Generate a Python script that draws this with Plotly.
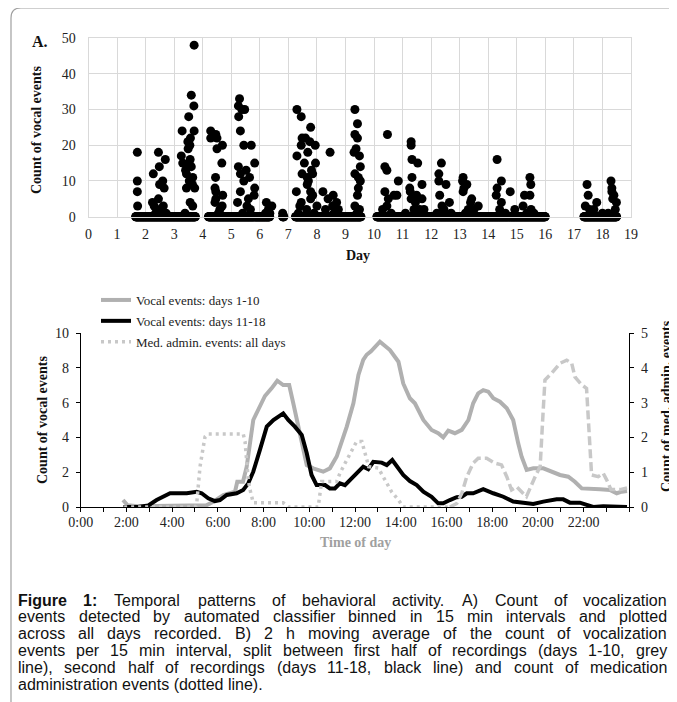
import numpy as np
import plotly.graph_objects as go

# target picture size and the page's default body margin offset
W_PAGE, H_PAGE = 677, 702
OFF = 8
W, H = W_PAGE - OFF, H_PAGE - OFF

# ---------------- Panel A data (day, count of vocal events per 15-min bin) ----------------
day_a = [1.71, 1.71, 1.71, 1.72,
         2.27, 2.24, 2.30, 2.45, 2.48, 2.49, 2.45, 2.60, 2.65, 2.69, 2.62, 2.55, 2.40, 2.72, 2.35,
         3.28, 3.25, 3.30, 3.40, 3.43, 3.43, 3.51, 3.48, 3.49, 3.52, 3.60, 3.69, 3.70, 3.57, 3.55, 3.56,
         3.60, 3.65, 3.53, 3.64, 3.72, 3.56, 3.65, 3.70, 3.38,
         4.28, 4.28, 4.46, 4.50, 4.50, 4.69, 4.45, 4.43, 4.46, 4.46, 4.43, 4.70, 4.67, 4.68, 4.60, 4.55,
         5.29, 5.25, 5.37, 5.47, 5.26, 5.32, 5.25, 5.32, 5.22, 5.32, 5.44, 5.52, 5.44, 5.70, 5.64, 5.60,
         5.82, 5.82, 5.80, 5.55, 5.67, 5.40,
         6.23, 6.42, 6.30, 6.35, 6.20, 6.80,
         7.30, 7.45, 7.30, 7.28, 7.48, 7.45, 7.60, 7.75, 7.94, 7.78, 7.68, 7.56, 7.48, 7.66, 7.81, 7.85,
         7.95, 7.66, 7.70, 7.78, 7.85, 7.78, 7.45, 7.40, 7.64, 7.35, 7.90, 8.00,
         8.46, 8.21, 8.57, 8.39, 8.69, 8.55, 8.30, 8.75, 8.60,
         9.33, 9.33, 9.42, 9.42, 9.30, 9.37, 9.49, 9.52, 9.33, 9.45, 9.52, 9.45, 9.42, 9.33, 9.49, 9.40,
         10.38, 10.45, 10.47, 10.38, 10.50, 10.45, 10.70, 10.85, 10.80, 10.60, 10.30,
         11.30, 11.30, 11.33, 11.33, 11.25, 11.27, 11.30, 11.53, 11.49, 11.45, 11.68, 11.68, 11.60, 11.75,
         11.10, 11.40,
         12.27, 12.27, 12.36, 12.30, 12.52, 12.64, 12.38, 12.45, 12.20, 12.70,
         13.12, 13.10, 13.15, 13.12, 13.25, 13.42, 13.65, 13.38, 13.30, 13.50, 13.20,
         14.31, 14.31, 14.28, 14.46, 14.77, 14.46, 14.93, 14.60, 14.40,
         15.27, 15.22, 15.46, 15.49, 15.46, 15.50, 15.35, 15.60,
         17.46, 17.50, 17.40, 17.55, 17.80, 17.70, 18.30, 18.33, 18.33, 18.36, 18.40, 18.49, 18.45,
         18.20, 18.00]
count_a = [18, 10, 7, 3,
           12, 4, 3, 18, 14, 9, 5, 10, 8, 16, 3, 2, 2, 1, 1,
           24, 17, 15, 13, 12, 8, 28, 21, 19, 15, 34, 31, 24, 22, 20, 16,
           14, 11, 10, 9, 8, 4, 3, 48, 1,
           24, 22, 23, 22, 19, 20, 11, 8, 7, 5, 4, 6, 15, 3, 2, 1,
           33, 31, 30, 30, 28, 24, 14, 12, 4, 7, 10, 13, 20, 20, 11, 5,
           8, 15, 6, 3, 2, 1,
           4, 3, 2, 1, 1, 1,
           30, 28, 17, 7, 22, 20, 22, 21, 20, 25, 18, 15, 12, 11, 13, 12,
           15, 9, 10, 7, 6, 5, 4, 3, 2, 1, 1, 3,
           18, 7, 6, 5, 4, 3, 2, 2, 1,
           30, 23, 22, 26, 18, 19, 17, 14, 12, 11, 10, 8, 6, 3, 2, 1,
           14, 13, 23, 7, 5, 3, 6, 10, 6, 1, 2,
           21, 20, 16, 11, 8, 7, 5, 15, 6, 4, 9, 5, 2, 2,
           1, 2,
           12, 10, 15, 6, 9, 4, 3, 2, 1, 1,
           11, 10, 8, 7, 9, 5, 3, 4, 2, 2, 1,
           16, 8, 6, 10, 7, 4, 2, 1, 2,
           6, 3, 11, 9, 6, 2, 1, 1,
           9, 6, 3, 2, 4, 2, 10, 8, 7, 5, 6, 4, 2,
           1, 1]
# recorded periods (day ranges) in which the remaining 15-min bins had a count of 0
recorded_spans = [(1.65, 3.75), (4.2, 6.35), (6.8, 6.85), (7.25, 9.55), (10.1, 16.0), (17.35, 18.5)]
BIN = 1 / 96  # 15 min in days
zero_days = np.concatenate([np.arange(s, e + 1e-9, BIN) for s, e in recorded_spans])
zero_counts = np.zeros_like(zero_days)

# ---------------- Panel B data (hour of day) ----------------
t_early = [1.85, 2.05, 2.5, 3.0, 4.0, 5.0, 5.5, 5.8, 6.24, 6.75, 6.85, 7.1, 7.26, 7.55, 7.84, 8.06,
           8.35, 8.6, 8.86, 9.12, 9.3, 9.6, 9.89, 10.17, 10.61, 10.9, 11.2, 11.64, 11.93, 12.15,
           12.36, 12.51, 12.7, 13.09, 13.53, 13.9, 14.11, 14.4, 14.62, 14.99, 15.35, 15.64, 15.86,
           16.08, 16.37, 16.67, 16.96, 17.17, 17.39, 17.61, 17.83, 18.05, 18.34, 18.64, 18.92,
           19.14, 19.29, 19.51, 19.8, 20.24, 20.6, 20.97, 21.33, 21.62, 21.92, 22.28, 22.72, 23.15,
           23.45, 23.67, 23.9]
v_early = [0.4, 0.1, 0.05, 0.05, 0.05, 0.05, 0.1, 0.3, 0.69, 0.88, 1.45, 1.45, 2.3, 5.0, 5.86, 6.38,
           6.82, 7.26, 7.01, 7.01, 5.96, 4.23, 2.41, 2.22, 2.03, 2.22, 2.9, 4.62, 5.96, 7.59,
           8.45, 8.75, 8.95, 9.5, 9.02, 8.35, 7.1, 6.25, 5.96, 5.0, 4.43, 4.24, 4.0,
           4.39, 4.24, 4.43, 5.0, 5.96, 6.53, 6.72, 6.63, 6.25, 6.05, 5.67, 5.0,
           3.66, 2.89, 2.13, 2.22, 2.22, 2.03, 1.84, 1.74, 1.45, 1.07, 1.07, 1.02, 0.98,
           0.79, 0.88, 0.92]

t_late = [1.87, 2.5, 2.96, 3.32, 3.91, 4.64, 5.07, 5.29, 5.58, 5.87, 6.09, 6.39, 6.82, 7.11, 7.33,
          7.55, 7.84, 8.14, 8.43, 8.86, 9.08, 9.37, 9.67, 9.89, 10.1, 10.32, 10.69, 10.9, 11.12,
          11.34, 11.56, 11.85, 12.14, 12.36, 12.58, 12.8, 13.17, 13.39, 13.63, 13.9, 14.11, 14.4,
          14.7, 14.99, 15.35, 15.64, 15.86, 16.15, 16.45, 16.67, 16.89, 17.17, 17.61, 18.05, 18.49,
          18.92, 19.36, 19.8, 20.24, 20.53, 20.82, 21.11, 21.4, 21.84, 22.13, 22.42, 22.86, 23.45,
          23.9]
v_late = [0.0, 0.0, 0.09, 0.4, 0.79, 0.79, 0.88, 0.79, 0.5, 0.34, 0.4, 0.69, 0.79, 0.98, 1.36,
          2.03, 3.28, 4.62, 5.0, 5.38, 5.0, 4.62, 4.14, 3.09, 1.84, 1.26, 1.26, 1.07, 1.07,
          1.36, 1.26, 1.65, 2.03, 2.32, 2.17, 2.6, 2.55, 2.41, 2.7, 2.22, 1.84, 1.49,
          1.26, 0.88, 0.59, 0.21, 0.21, 0.4, 0.56, 0.59, 0.79, 0.79, 1.02, 0.79, 0.59,
          0.31, 0.25, 0.17, 0.31, 0.4, 0.44, 0.44, 0.25, 0.25, 0.15, 0.0, 0.04, 0.04,
          0.0]

t_med = [1.9, 3.0, 4.0, 5.0, 5.07, 5.15, 5.22, 5.34, 5.44, 5.58, 6.5, 7.11, 7.19, 7.26, 7.33, 7.41,
         7.55, 8.86, 9.08, 10.39, 10.47, 10.54, 11.2, 11.34, 11.64, 11.85, 12.07, 12.3, 12.45,
         12.6, 13.02, 13.31, 13.6, 13.9, 14.11, 16.15, 16.45, 16.67, 16.89, 17.17, 17.39, 17.76,
         18.12, 18.41, 18.64, 18.85, 19.07, 19.36, 19.5, 19.9, 20.1, 20.21, 20.31, 20.6, 20.97,
         21.26, 21.48, 21.62, 21.92, 22.13, 22.2, 22.28, 22.35, 22.64, 22.86, 23.01, 23.2, 23.6,
         23.9]
m_med = [0.0, 0.0, 0.0, 0.0, 0.06, 0.58, 1.16, 1.64, 2.02, 2.1, 2.1, 2.1, 1.88, 1.16, 0.78, 0.49,
         0.12, 0.12, 0.0, 0.0, 0.49, 0.73, 0.73, 0.97, 1.35, 1.59, 1.88, 1.88, 1.5,
         1.16, 1.12, 0.78, 0.44, 0.2, 0.0, 0.0, 0.1, 0.39, 0.87, 1.26, 1.4, 1.4,
         1.26, 1.21, 0.87, 0.49, 0.58, 0.39, 0.3, 0.9, 1.16, 2.5, 3.65, 3.84, 4.13,
         4.22, 4.13, 3.74, 3.51, 3.41, 2.5, 1.54, 0.92, 0.87, 0.97, 0.78, 0.5, 0.5,
         0.55]
MED_DASH_FROM = 16.15  # the dotted pattern appears as longer dashes in the evening

hour_ticks = list(range(0, 24, 2))
hour_labels = [f"{h}:00" for h in hour_ticks]

caption_lines = [
    "<b>Figure</b> <b>1:</b> Temporal patterns of behavioral activity. A) Count of vocalization",
    "events detected by automated classifier binned in 15 min intervals and plotted",
    "across all days recorded. B) 2 h moving average of the count of vocalization",
    "events per 15 min interval, split between first half of recordings (days 1-10, grey",
    "line), second half of recordings (days 11-18, black line) and count of medication",
    "administration events (dotted line).",
]


def px(x):
    """picture x (px) -> paper fraction"""
    return (x - OFF) / W


def py(y):
    """picture y (px) -> paper fraction"""
    return 1 - (y - OFF) / H


SERIF = "Liberation Serif, Times New Roman, serif"
SANS = "Liberation Sans, Arial, sans-serif"

fig = go.Figure()

# Panel A scatter
fig.add_trace(go.Scatter(
    x=np.concatenate([zero_days, day_a]), y=np.concatenate([zero_counts, count_a]),
    mode="markers", marker=dict(color="black", size=9, line=dict(width=0)),
    xaxis="x", yaxis="y", showlegend=False, cliponaxis=False, hoverinfo="skip"))

# Panel B lines
fig.add_trace(go.Scatter(x=t_early, y=v_early, mode="lines", name="Vocal events: days 1-10",
                         line=dict(color="#b0b0b0", width=4), xaxis="x2", yaxis="y2",
                         legendgroup="g1"))
fig.add_trace(go.Scatter(x=t_late, y=v_late, mode="lines", name="Vocal events: days 11-18",
                         line=dict(color="black", width=4), xaxis="x2", yaxis="y2",
                         legendgroup="g2"))
t_med_a = np.array(t_med)
m_med_a = np.array(m_med)
sel1 = t_med_a <= MED_DASH_FROM
sel2 = t_med_a >= MED_DASH_FROM
fig.add_trace(go.Scatter(x=t_med_a[sel1], y=m_med_a[sel1], mode="lines",
                         name="Med. admin. events: all days",
                         line=dict(color="#c8c8c8", width=3.5, dash="3px,4px"),
                         xaxis="x2", yaxis="y3", legendgroup="g3"))
fig.add_trace(go.Scatter(x=t_med_a[sel2], y=m_med_a[sel2], mode="lines",
                         name="Med. admin. events: all days", showlegend=False,
                         line=dict(color="#c8c8c8", width=3.5, dash="9px,4px"),
                         xaxis="x2", yaxis="y3", legendgroup="g3"))

tickfont = dict(family=SERIF, size=14, color="#222")
grid = "#d9d9d9"

fig.update_layout(
    width=W, height=H, autosize=False,
    margin=dict(l=0, r=0, t=0, b=0, pad=0, autoexpand=False),
    paper_bgcolor="white", plot_bgcolor="rgba(0,0,0,0)",
    xaxis=dict(domain=[px(88.5), px(631)], range=[0, 19], dtick=1, tick0=0,
               showgrid=True, gridcolor=grid, gridwidth=1, zeroline=False,
               showline=True, linecolor=grid, mirror=True, ticks="",
               tickfont=tickfont, anchor="y", ticklabelstandoff=4, automargin=False),
    yaxis=dict(domain=[py(216.7), py(38)], range=[0, 50], dtick=10,
               showgrid=True, gridcolor=grid, gridwidth=1, zeroline=False,
               showline=True, linecolor=grid, mirror=True, ticks="",
               tickfont=tickfont, anchor="x", ticklabelstandoff=9, automargin=False),
    xaxis2=dict(domain=[px(80.7), px(629.3)], range=[0, 24], tickmode="array",
                tickvals=hour_ticks, ticktext=hour_labels, ticks="outside", ticklen=4,
                tickcolor="black", showline=True, linecolor="black", linewidth=1,
                showgrid=False, zeroline=False, tickfont=tickfont, anchor="y2",
                minor=dict(ticks="outside", tickmode="linear", tick0=0, dtick=1, ticklen=4,
                           tickcolor="black", showgrid=False),
                ticklabelstandoff=-2, automargin=False),
    yaxis2=dict(domain=[py(507), py(333)], range=[0, 10], dtick=2, ticks="outside", ticklen=4,
                tickcolor="black", showline=True, linecolor="black", linewidth=1,
                showgrid=False, zeroline=False, tickfont=tickfont, anchor="x2",
                ticklabelstandoff=4, automargin=False),
    yaxis3=dict(domain=[py(507), py(333)], range=[0, 5], dtick=1, ticks="outside", ticklen=4,
                tickcolor="black", showline=True, linecolor="black", linewidth=1,
                showgrid=False, zeroline=False, tickfont=tickfont, anchor="x2",
                overlaying="y2", side="right", ticklabelstandoff=4, automargin=False),
    legend=dict(x=px(96), y=py(285), xanchor="left", yanchor="top",
                font=dict(family=SERIF, size=13, color="#222"), bgcolor="rgba(0,0,0,0)",
                tracegroupgap=1, itemwidth=30),
    showlegend=True,
)

annotations = [
    dict(x=px(40), y=py(41), text="<b>A.</b>", font=dict(family=SERIF, size=16, color="#111")),
    dict(x=px(37), y=py(130), text="<b>Count of vocal events</b>", textangle=-90,
         font=dict(family=SERIF, size=14, color="#111")),
    dict(x=px(358), y=py(255), text="<b>Day</b>", font=dict(family=SERIF, size=14, color="#111")),
    dict(x=px(42), y=py(420), text="<b>Count of vocal events</b>", textangle=-90,
         font=dict(family=SERIF, size=14, color="#111")),
    dict(x=px(667), y=py(406), text="<b>Count of med. admin. events</b>", textangle=-90,
         font=dict(family=SERIF, size=14, color="#111")),
    dict(x=px(355), y=py(542), text="<b>Time of day</b>",
         font=dict(family=SERIF, size=14, color="#a0a0a0")),
]
for a in annotations:
    a.update(xref="paper", yref="paper", showarrow=False, xanchor="center", yanchor="middle")

# ---- justified caption (Arial / Liberation Sans metrics, units per 1000 em) ----
AW = {' ': 278, '!': 278, '(': 333, ')': 333, ',': 278, '-': 333, '.': 278, ':': 278,
      'A': 667, 'B': 667, 'C': 722, 'F': 611, 'T': 611}
for ch in '0123456789':
    AW[ch] = 556
AW.update({'a': 556, 'b': 556, 'c': 500, 'd': 556, 'e': 556, 'f': 278, 'g': 556, 'h': 556,
           'i': 222, 'j': 222, 'k': 500, 'l': 222, 'm': 833, 'n': 556, 'o': 556, 'p': 556,
           'q': 556, 'r': 333, 's': 500, 't': 278, 'u': 556, 'v': 500, 'w': 722, 'x': 500,
           'y': 500, 'z': 500})
BW = {'F': 611, 'i': 278, 'g': 611, 'u': 611, 'r': 389, 'e': 556, '1': 556, ':': 333}

CAP_SIZE = 16
CAP_LEFT, CAP_RIGHT = 18, 667
CAP_Y0, CAP_DY = 600, 16.9


def word_width(w):
    if w.startswith("<b>"):
        core = w[3:-4]
        return sum(BW.get(c, 600) for c in core) * CAP_SIZE / 1000
    return sum(AW.get(c, 556) for c in w) * CAP_SIZE / 1000


for i, line in enumerate(caption_lines):
    yy = CAP_Y0 + i * CAP_DY
    if i == len(caption_lines) - 1:
        annotations.append(dict(x=px(CAP_LEFT), y=py(yy), text=line, xref="paper", yref="paper",
                                showarrow=False, xanchor="left", yanchor="middle",
                                borderpad=0, borderwidth=0,
                                font=dict(family=SANS, size=CAP_SIZE, color="#111")))
        continue
    words = line.split(" ")
    widths = [word_width(w) for w in words]
    gap = (CAP_RIGHT - CAP_LEFT - sum(widths)) / (len(words) - 1)
    xx = CAP_LEFT
    for w, wd in zip(words, widths):
        annotations.append(dict(x=px(xx), y=py(yy), text=w, xref="paper", yref="paper",
                                showarrow=False, xanchor="left", yanchor="middle",
                                borderpad=0, borderwidth=0,
                                font=dict(family=SANS, size=CAP_SIZE, color="#111")))
        xx += wd + gap

fig.update_layout(annotations=annotations)

# outer frame with rounded top-left corner
frame = (f"M {px(11)},{py(720)} L {px(11)},{py(18)} Q {px(11)},{py(8)} {px(21)},{py(8)} "
         f"L {px(700)},{py(8)}")
fig.add_shape(type="path", path=frame, xref="paper", yref="paper",
              line=dict(color="#a0a0a0", width=1.2))

fig.write_html("out.html")
